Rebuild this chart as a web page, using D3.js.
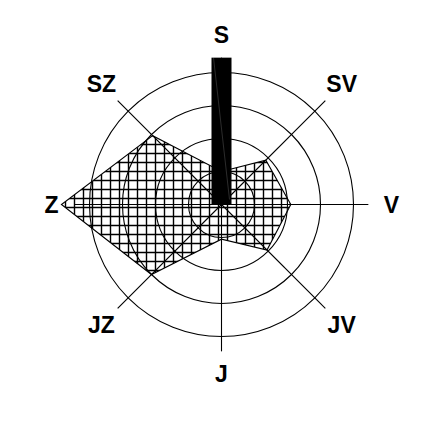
<!DOCTYPE html>
<html>
<head>
<meta charset="utf-8">
<script src="https://cdn.jsdelivr.net/npm/d3@7"></script>
<style>
  body { margin: 0; background: #fff; }
  text { font-family: Arial, "Liberation Sans", sans-serif; font-weight: bold; }
</style>
</head>
<body>
<svg id="rose" width="429" height="426"></svg>
<script>
// smery (od severu po smeru hodin)
var directions = ["S", "SV", "V", "JV", "J", "JZ", "Z", "SZ"];
var values = [1.0, 1.9, 2.1, 1.95, 1.05, 3.0, 4.85, 2.95];
var barValue = 4.45;   // cerny sloupec na sever
var rings = [1, 2, 3, 4];

var width = 429, height = 426;
var cx = 221.5, cy = 204.5;

var svg = d3.select("#rose");
svg.append("rect").attr("width", width).attr("height", height).attr("fill", "#fff");

var r = d3.scaleLinear().domain([0, 4]).range([0, 132]);
var angle = d3.scalePoint().domain(directions).range([0, 2 * Math.PI * 7 / 8]);

function px(d, v) { return cx + r(v) * Math.sin(angle(d)); }
function py(d, v) { return cy - r(v) * Math.cos(angle(d)); }

// sraf - mrizka
var defs = svg.append("defs");
var pat = defs.append("pattern")
    .attr("id", "grid")
    .attr("patternUnits", "userSpaceOnUse")
    .attr("x", 1.5).attr("y", 7.5)
    .attr("width", 9).attr("height", 9);
pat.append("path")
    .attr("d", "M4.5,0V9M0,4.5H9")
    .attr("stroke", "#000")
    .attr("stroke-width", 1.4)
    .attr("fill", "none");

var g = svg.append("g");

// polygon
var line = d3.lineRadial()
    .angle(function(d, i) { return angle(directions[i]); })
    .radius(function(d) { return r(d); })
    .curve(d3.curveLinearClosed);

g.append("path")
    .datum(values)
    .attr("transform", "translate(" + cx + "," + cy + ")")
    .attr("d", line)
    .attr("fill", "url(#grid)")
    .attr("stroke", "#000")
    .attr("stroke-width", 1.1);

// kruznice
g.selectAll(".ring")
    .data(rings)
    .enter().append("circle")
    .attr("class", "ring")
    .attr("cx", cx).attr("cy", cy)
    .attr("r", function(d) { return r(d); })
    .attr("fill", "none")
    .attr("stroke", "#000")
    .attr("stroke-width", 1.1);

// osy
g.selectAll(".axis")
    .data(directions)
    .enter().append("line")
    .attr("class", "axis")
    .attr("x1", cx).attr("y1", cy)
    .attr("x2", function(d) { return px(d, 4.45); })
    .attr("y2", function(d) { return py(d, 4.45); })
    .attr("stroke", "#000")
    .attr("stroke-width", 1.1);

// sloupec
var bw = 20;
g.append("rect")
    .attr("x", cx - bw / 2)
    .attr("y", cy - r(barValue))
    .attr("width", bw)
    .attr("height", r(barValue))
    .attr("fill", "#000");
g.append("line")
    .attr("x1", cx - bw / 2 + 2).attr("y1", cy - r(barValue))
    .attr("x2", cx + bw / 2 - 2).attr("y2", cy - 5)
    .attr("stroke", "#fff")
    .attr("stroke-opacity", 0.35)
    .attr("stroke-width", 0.5);

// popisky
g.selectAll(".lbl")
    .data(directions)
    .enter().append("text")
    .attr("class", "lbl")
    .attr("x", function(d) { return px(d, 5.15); })
    .attr("y", function(d) { return py(d, 5.15); })
    .attr("text-anchor", "middle")
    .attr("dominant-baseline", "central")
    .attr("font-size", 23)
    .text(function(d) { return d; });
</script>
</body>
</html>
